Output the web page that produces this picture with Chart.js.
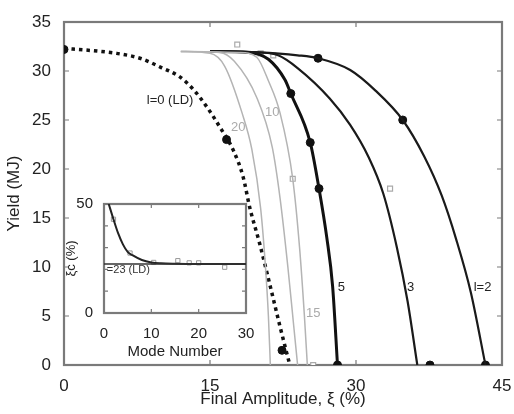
<!DOCTYPE html>
<html>
<head>
<meta charset="utf-8">
<script src="https://cdn.jsdelivr.net/npm/chart.js"></script>
<style>
  body { margin: 0; background: #fff; }
  #wrap { position: relative; width: 514px; height: 414px; }
  #mainChart { position: absolute; left: 0; top: 0; }
  #insetChart { position: absolute; left: 60px; top: 190px; }
</style>
<script>
  // main panel: yield (MJ) vs final amplitude (%)
  var ldX  = [0, 2.7, 5.4, 7.8, 9.9, 11.9, 13.3, 14.7, 16.0, 17.4, 18.4, 19.1, 20.1, 21.2, 22.2, 23.2];
  var ldY  = [32.3, 32.1, 31.8, 31.3, 30.4, 29.4, 28.1, 26.3, 24.3, 21.9, 19.2, 16.0, 12.4, 8.0, 3.9, 0];
  var g20X = [12, 15, 16.5, 18.3, 19.3, 20.2, 20.7, 21.0, 21.2];
  var g20Y = [32, 31.8, 30.5, 25.7, 22, 16, 10, 5, 0];
  var g10X = [12, 16, 17.5, 19.8, 21.4, 22.2, 23.0, 23.6, 24.0];
  var g10Y = [32, 31.9, 31, 27.3, 22.2, 17, 10, 4, 0];
  var g15X = [12, 18, 19.8, 21, 22.2, 23.5, 24.2, 24.7, 25.0];
  var g15Y = [32, 31.9, 31.4, 29, 25.7, 19, 12, 5, 0];
  var l6X  = [15, 19, 21, 22.7, 23.3, 25.3, 26.2, 27.0, 27.6, 28.1];
  var l6Y  = [32, 31.9, 31.2, 29.1, 27.7, 22.7, 18, 13, 8, 0];
  var l3X  = [15, 20, 22, 24, 27.3, 29.4, 31.3, 32.8, 34.2, 35.3, 36.3];
  var l3Y  = [32, 31.9, 31.6, 30.3, 27.2, 24.5, 21.2, 17.5, 12, 6.5, 0];
  var l2X  = [15, 20, 24, 26.1, 29.4, 32, 34.8, 37, 38.8, 40.3, 41.8, 43.3];
  var l2Y  = [32, 31.9, 31.6, 31.3, 30.1, 28, 25, 21.3, 17.3, 12.8, 7.4, 0];
  var fullX = [0, 23.3, 25.3, 26.2, 28.1, 37.6, 43.3, 26.1, 34.8, 22.4, 16.7];
  var fullY = [32.2, 27.7, 22.7, 18, 0, 0, 0, 31.3, 25, 1.5, 23];
  var openX = [17.8, 23.5, 33.5, 25.6, 21.5, 20.2];
  var openY = [32.7, 19, 18, 0, 31.6, 31.8];

  // inset: critical amplitude (%) vs mode number
  var modeX = [1, 2, 3, 4, 5, 6, 8, 10, 12, 15, 20, 30];
  var xiC   = [50, 43, 36.5, 31.5, 28, 26.5, 24.3, 23.2, 22.8, 22.6, 22.5, 22.5];
  var ldXi  = 22.5;
  var insetMarkX = [2, 5.5, 10.5, 15.6, 18, 20, 25.5];
  var insetMarkY = [43, 27.5, 23.2, 24, 23, 23, 21];
</script>
</head>
<body>
<div id="wrap">
  <canvas id="mainChart" width="514" height="414"></canvas>
  <canvas id="insetChart" width="200" height="175"></canvas>
</div>
<script>
  function pts(xs, ys) {
    return xs.map(function (x, i) { return { x: x, y: ys[i] }; });
  }

  var FONT = "'Liberation Sans', Arial, sans-serif";

  // box with inward ticks, matlab style
  var framePlugin = {
    id: 'frame',
    beforeDatasetsDraw: function (chart) {
      var ctx = chart.ctx, a = chart.chartArea, sx = chart.scales.x, sy = chart.scales.y;
      var len = chart.options.plugins.frame.len;
      ctx.save();
      ctx.strokeStyle = '#7a7a7a';
      ctx.lineWidth = 1.2;
      sx.ticks.forEach(function (t) {
        var px = sx.getPixelForValue(t.value);
        ctx.beginPath();
        ctx.moveTo(px, a.bottom); ctx.lineTo(px, a.bottom - len);
        ctx.moveTo(px, a.top); ctx.lineTo(px, a.top + len);
        ctx.stroke();
      });
      sy.ticks.forEach(function (t) {
        var py = sy.getPixelForValue(t.value);
        ctx.beginPath();
        ctx.moveTo(a.left, py); ctx.lineTo(a.left + len, py);
        ctx.moveTo(a.right, py); ctx.lineTo(a.right - len, py);
        ctx.stroke();
      });
      ctx.lineWidth = 2.2;
      ctx.strokeRect(a.left, a.top, a.right - a.left, a.bottom - a.top);
      ctx.restore();
    }
  };

  // curve labels
  var notes = [
    { t: 'l=0 (LD)', x: 10.9, y: 27, c: '#222', s: 13 },
    { t: '20', x: 17.9, y: 24.2, c: '#aaa', s: 13 },
    { t: '10', x: 21.4, y: 25.8, c: '#aaa', s: 13 },
    { t: '15', x: 25.6, y: 5.3, c: '#aaa', s: 13 },
    { t: '5', x: 28.5, y: 7.9, c: '#222', s: 13 },
    { t: '3', x: 35.6, y: 7.9, c: '#222', s: 13 },
    { t: 'l=2', x: 43.0, y: 7.9, c: '#222', s: 13 }
  ];
  var notePlugin = {
    id: 'notes',
    afterDatasetsDraw: function (chart) {
      var ctx = chart.ctx, sx = chart.scales.x, sy = chart.scales.y;
      ctx.save();
      ctx.textAlign = 'center';
      ctx.textBaseline = 'middle';
      notes.forEach(function (n) {
        ctx.font = n.s + 'px ' + FONT;
        ctx.fillStyle = n.c;
        ctx.fillText(n.t, sx.getPixelForValue(n.x), sy.getPixelForValue(n.y));
      });
      ctx.restore();
    }
  };

  function curve(xs, ys, color, width, dash) {
    return {
      data: pts(xs, ys), showLine: true, borderColor: color, borderWidth: width,
      borderDash: dash || [], pointRadius: 0, cubicInterpolationMode: 'monotone', fill: false
    };
  }

  new Chart(document.getElementById('mainChart'), {
    type: 'scatter',
    data: {
      datasets: [
        curve(g20X, g20Y, '#b4b4b4', 1.5),
        curve(g10X, g10Y, '#b4b4b4', 1.5),
        curve(g15X, g15Y, '#b4b4b4', 1.5),
        curve(l3X, l3Y, '#1a1a1a', 2.2),
        curve(l2X, l2Y, '#1a1a1a', 2.2),
        curve(l6X, l6Y, '#111', 3),
        curve(ldX, ldY, '#111', 3.5, [3.5, 4]),
        { data: pts(openX, openY), pointStyle: 'rect', pointRadius: 3.5, pointBackgroundColor: '#fff',
          pointBorderColor: '#aaa', pointBorderWidth: 1.2 },
        { data: pts(fullX, fullY), pointRadius: 4, pointBackgroundColor: '#111', pointBorderColor: '#111' }
      ]
    },
    options: {
      responsive: false,
      animation: false,
      layout: { padding: { left: 0, right: 12, top: 22, bottom: 0 } },
      plugins: { legend: { display: false }, tooltip: { enabled: false }, frame: { len: 5 } },
      scales: {
        x: {
          type: 'linear', min: 0, max: 45,
          grid: { display: false }, border: { display: false },
          ticks: { stepSize: 15, color: '#222', padding: 3, font: { family: FONT, size: 17 } },
          title: { display: true, text: 'Final Amplitude, ξ (%)', color: '#222', padding: { top: 0 },
                   font: { family: FONT, size: 17 } },
          afterFit: function (s) { s.height = 49; s.paddingLeft = 0; s.paddingRight = 0; }
        },
        y: {
          min: 0, max: 35,
          grid: { display: false }, border: { display: false },
          ticks: { stepSize: 5, color: '#222', padding: 5, font: { family: FONT, size: 17 } },
          title: { display: true, text: 'Yield (MJ)', color: '#222', padding: { bottom: 2 },
                   font: { family: FONT, size: 17 } },
          afterFit: function (s) { s.width = 64; s.paddingTop = 0; s.paddingBottom = 0; }
        }
      }
    },
    plugins: [framePlugin, notePlugin]
  });

  var insetNote = {
    id: 'insetNote',
    afterDatasetsDraw: function (chart) {
      var ctx = chart.ctx, sx = chart.scales.x, sy = chart.scales.y;
      ctx.save();
      ctx.font = '11px ' + FONT;
      ctx.fillStyle = '#333';
      ctx.textBaseline = 'top';
      ctx.fillText('=23 (LD)', sx.getPixelForValue(0.6), sy.getPixelForValue(ldXi) + 1);
      ctx.restore();
    }
  };

  new Chart(document.getElementById('insetChart'), {
    type: 'scatter',
    data: {
      datasets: [
        curve([0, 30], [ldXi, ldXi], '#333', 1.5),
        curve(modeX, xiC, '#222', 2),
        { data: pts(insetMarkX, insetMarkY), pointStyle: 'rect', pointRadius: 3, pointBackgroundColor: '#fff',
          pointBorderColor: '#999', pointBorderWidth: 1 }
      ]
    },
    options: {
      responsive: false,
      animation: false,
      layout: { padding: { left: 0, right: 14, top: 14, bottom: 0 } },
      plugins: { legend: { display: false }, tooltip: { enabled: false }, frame: { len: 4 } },
      scales: {
        x: {
          type: 'linear', min: 0, max: 30,
          grid: { display: false }, border: { display: false },
          ticks: { stepSize: 10, color: '#222', padding: 4, font: { family: FONT, size: 15 } },
          title: { display: true, text: 'Mode Number', color: '#222', padding: { top: 0 },
                   font: { family: FONT, size: 15 } },
          afterFit: function (s) { s.height = 52; s.paddingLeft = 0; s.paddingRight = 0; }
        },
        y: {
          min: 0, max: 50,
          grid: { display: false }, border: { display: false },
          ticks: { stepSize: 10, color: '#222', padding: 3, font: { family: FONT, size: 15 },
                   callback: function (v) { return (v === 0 || v === 50) ? v : ''; } },
          title: { display: true, text: 'ξc (%)', color: '#222', padding: { bottom: 0 },
                   font: { family: FONT, size: 13 } },
          afterFit: function (s) { s.width = 44; s.paddingTop = 0; s.paddingBottom = 0; }
        }
      }
    },
    plugins: [framePlugin, insetNote]
  });
</script>
</body>
</html>
